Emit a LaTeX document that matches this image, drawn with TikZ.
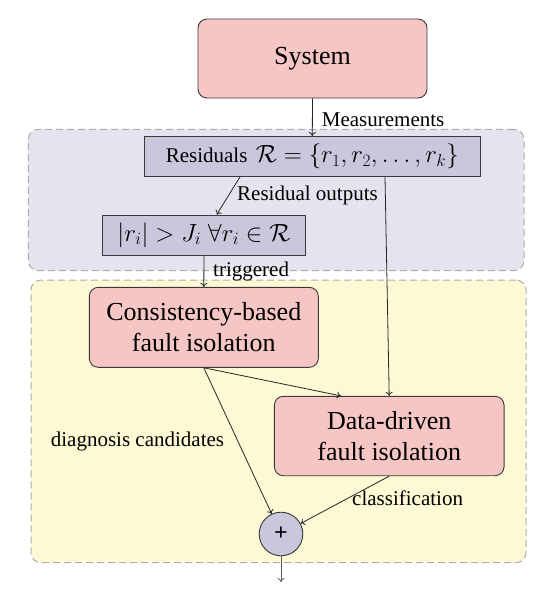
\documentclass[tikz,border=0pt]{standalone}
\usepackage{fontspec}
\setmainfont{Liberation Serif}
\usetikzlibrary{arrows.meta,calc}
\definecolor{boxpink}{HTML}{F6C6C4}
\definecolor{boxlav}{HTML}{C8C7DB}
\definecolor{regtop}{HTML}{E4E3EE}
\definecolor{regbot}{HTML}{FEF9D5}
\definecolor{edgegray}{HTML}{3A3A3A}
\newcommand\bigmath[1]{{\fontsize{24.5}{28}\selectfont$#1$}}
\tikzset{
  x=1pt, y=-1pt,
  bigfont/.style={font=\fontsize{26}{31}\selectfont},
  smallfont/.style={font=\fontsize{21}{25}\selectfont},
  region/.style={draw=gray!65, line width=1pt, dash pattern=on 7pt off 4pt, rounded corners=10pt, inner sep=0pt},
  pinkbox/.style={draw=edgegray, line width=0.9pt, fill=boxpink, rounded corners=9pt, align=center, inner sep=0pt, bigfont},
  lavbox/.style={draw=edgegray, line width=0.9pt, fill=boxlav, inner sep=0pt, smallfont},
  lbl/.style={smallfont, inner sep=0pt, anchor=base west},
  conn/.style={draw=black!85, line width=0.8pt, -{To[length=4pt,width=7pt]}},
}
\begin{document}
\begin{tikzpicture}
\useasboundingbox (0,0) rectangle (560,598);
% regions
\node[region, fill=regtop, minimum width=495.7pt, minimum height=141.4pt] (upper) at (276.15,200) {};
\node[region, fill=regbot, minimum width=495pt, minimum height=282.7pt] (lower) at (278.5,421.35) {};
% nodes
\node[pinkbox, minimum width=229pt, minimum height=79pt] (sys) at (312.5,58.5) {System};
\node[lavbox, minimum width=336pt, minimum height=40pt] (res) at (312.3,156.5) {Residuals\hspace{8.5pt}\bigmath{\mathcal{R}=\{r_1,r_2,\ldots,r_k\}}};
\node[lavbox, minimum width=203.4pt, minimum height=40pt] (thr) at (204,235) {\bigmath{|r_i|>J_i\;\forall r_i\in\mathcal{R}}};
\node[pinkbox, minimum width=229pt, minimum height=80pt] (cons) at (203.8,327.3) {Consistency-based\\fault isolation};
\node[pinkbox, minimum width=229.7pt, minimum height=79.4pt] (data) at (389.2,436) {Data-driven\\fault isolation};
\node[draw=edgegray, line width=0.9pt, fill=boxlav, circle, minimum size=43.6pt, inner sep=0pt, font=\fontsize{24}{28}\selectfont\bfseries] (plus) at (281,534) {+};
\coordinate (out) at (281,582);
\coordinate (resA) at ([xshift=-72.3pt]res.south);
\coordinate (resB) at ([xshift=72.7pt]res.south);
\coordinate (dataN) at ([xshift=-48.4pt]data.north);
% labels
\node[lbl] (lmeas) at (321.7,126) {Measurements};
\node[lbl] (lres) at (237,200) {Residual outputs};
\node[lbl] (ltrig) at (213,276) {triggered};
\node[lbl] (ldiag) at (50.7,446) {diagnosis candidates};
\node[lbl] (lclass) at (352,505) {classification};
% connectors
\draw[conn] (sys.south) -- (res.north);
\draw[conn] (resA) -- ([xshift=12.7pt]thr.north);
\draw[conn] (thr.south) -- (cons.north);
\draw[conn] (resB) -- (data.north);
\draw[conn] (cons.south) -- (dataN);
\draw[conn] (cons.south) -- (plus);
\draw[conn] (data.south) -- (plus);
\draw[conn, draw=black!65] (plus.south) -- (out);
\end{tikzpicture}
\end{document}
